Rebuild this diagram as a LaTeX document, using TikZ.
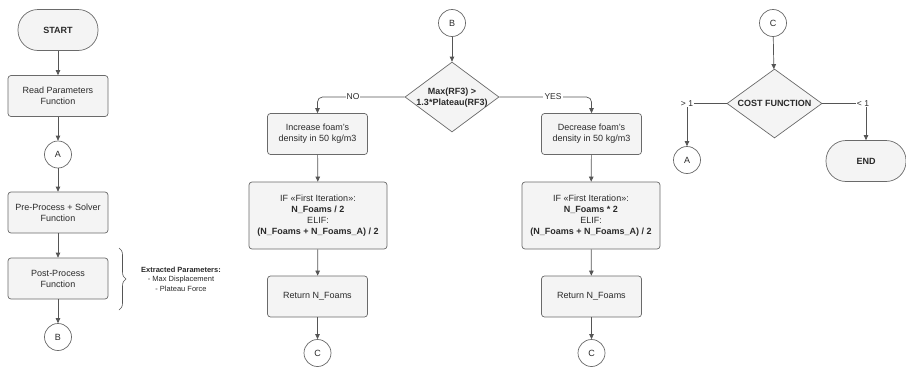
\documentclass[tikz,border=0pt]{standalone}
\usepackage{fontspec}
\setmainfont{Liberation Sans}
\usetikzlibrary{arrows.meta,shapes.geometric,decorations.pathreplacing}
\definecolor{boxfill}{HTML}{F4F4F4}
\definecolor{boxline}{HTML}{6A6A6A}
\definecolor{conn}{HTML}{555555}
\definecolor{txt}{HTML}{2A2A2A}
\begin{document}
\begin{tikzpicture}[x=1pt,y=-1pt,
  every node/.style={text=txt, font=\fontsize{9}{11}\selectfont},
  procbox/.style={draw=boxline, fill=boxfill, line width=0.7pt, rounded corners=3pt,
     minimum width=100pt, minimum height=41pt, align=center, inner sep=2pt},
  bigbox/.style={procbox, minimum width=138pt, minimum height=67pt},
  termbox/.style={draw=boxline, fill=boxfill, line width=0.7pt, rounded corners=20pt,
     minimum width=80pt, minimum height=41pt, font=\bfseries\fontsize{9}{11}\selectfont},
  conncirc/.style={circle, draw=boxline, fill=white, line width=0.7pt, minimum size=27pt, inner sep=0pt},
  decision/.style={diamond, draw=boxline, fill=boxfill, line width=0.7pt, minimum width=94pt, minimum height=70pt, inner sep=0pt},
  dtext/.style={align=center, font=\bfseries\fontsize{9}{11}\selectfont},
  lbl/.style={fill=white, inner sep=1pt, font=\fontsize{8.5}{10}\selectfont},
  arr/.style={draw=conn, line width=0.7pt, -{Triangle[length=5pt,width=4.5pt]}},
  ln/.style={draw=conn, line width=0.7pt}
]
\useasboundingbox (0,0) rectangle (906,367);

% left column
\node[termbox] (start) at (58,30) {START};
\node[procbox] (read) at (58,96) {Read Parameters\\Function};
\node[conncirc] (a1) at (58,154.5) {A};
\node[procbox] (pre) at (58,212.5) {Pre-Process + Solver\\Function};
\node[procbox] (post) at (58,278.5) {Post-Process\\Function};
\node[conncirc] (b1) at (58,337) {B};
\draw[arr] (start) -- (read);
\draw[arr] (read) -- (a1);
\draw[arr] (a1) -- (pre);
\draw[arr] (pre) -- (post);
\draw[arr] (post) -- (b1);
\coordinate (brtop) at (119,248);
\coordinate (brbot) at (119,310);
\draw[draw=conn, line width=0.6pt, decorate, decoration={brace, amplitude=7pt}] (brtop) -- (brbot);
\node[align=center, font=\fontsize{7.5}{9.5}\selectfont] (extr) at (181,279)
  {\textbf{Extracted Parameters:}\\- Max Displacement\\- Plateau Force};

% middle
\node[conncirc] (b2) at (452,23) {B};
\node[decision] (d1) at (452,97) {};
\node[dtext] (d1t) at (452,97.5) {Max(RF3) >\\1.3*Plateau(RF3)};
\draw[arr] (b2) -- (d1);

\node[procbox] (inc) at (317.5,134) {Increase foam's\\density in 50 kg/m3};
\node[bigbox] (if1) at (318,215.5) {IF «First Iteration»:\\\textbf{N\_Foams / 2}\\ELIF:\\\textbf{(N\_Foams + N\_Foams\_A) / 2}};
\node[procbox] (ret1) at (317.5,296.5) {Return N\_Foams};
\node[conncirc] (c1) at (317.5,353) {C};
\draw[arr, rounded corners=5pt] (d1.west) -- (inc.north |- d1.west) -- (inc.north);
\node[lbl] (no) at (353,97) {NO};
\draw[arr] (inc) -- (if1);
\draw[arr] (if1) -- (ret1);
\draw[arr] (ret1) -- (c1);

\node[procbox] (dec) at (591.5,134) {Decrease foam's\\density in 50 kg/m3};
\node[bigbox] (if2) at (591,215.5) {IF «First Iteration»:\\\textbf{N\_Foams * 2}\\ELIF:\\\textbf{(N\_Foams + N\_Foams\_A) / 2}};
\node[procbox] (ret2) at (591.5,296.5) {Return N\_Foams};
\node[conncirc] (c2) at (591.5,353) {C};
\draw[arr, rounded corners=5pt] (d1.east) -- (dec.north |- d1.east) -- (dec.north);
\node[lbl] (yes) at (553,97) {YES};
\draw[arr] (dec) -- (if2);
\draw[arr] (if2) -- (ret2);
\draw[arr] (ret2) -- (c2);

% right
\node[conncirc] (c3) at (773,23) {C};
\node[decision, minimum width=95pt, minimum height=69pt] (d2) at (774.5,103.5) {};
\node[dtext] (d2t) at (774.5,103.5) {COST FUNCTION};
\draw[arr] (c3) -- (d2);
\node[conncirc] (a2) at (687,160) {A};
\node[termbox] (end) at (866,161) {END};
\draw[arr] (d2.west) -| (a2.north) node[lbl, pos=0.5] (gt) {> 1};
\draw[arr] (d2.east) -| (end.north) node[lbl, pos=0.5, xshift=-3pt] (lt) {< 1};
\end{tikzpicture}
\end{document}
